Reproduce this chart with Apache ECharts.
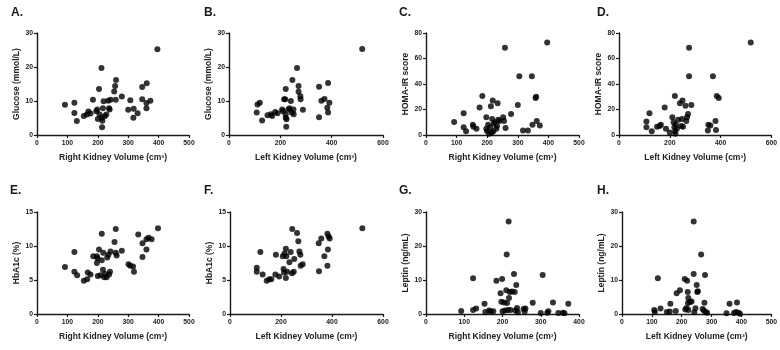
<!DOCTYPE html>
<html>
<head>
<meta charset="utf-8">
<script src="https://cdn.jsdelivr.net/npm/echarts@6/dist/echarts.min.js"></script>
<style>
  html, body { margin: 0; padding: 0; background: #fff; }
  #chart { width: 780px; height: 350px; }
</style>
</head>
<body>
<div id="chart"></div>
<script>
// panel letters and axis labels
const panelLetters = ['A.', 'B.', 'C.', 'D.', 'E.', 'F.', 'G.', 'H.'];
const xNames = [
  'Right Kidney Volume (cm³)', 'Left Kidney Volume (cm³)',
  'Right Kidney Volume (cm³)', 'Left Kidney Volume (cm³)',
  'Right Kidney Volume (cm³)', 'Left Kidney Volume (cm³)',
  'Right Kidney Volume (cm³)', 'Left Kidney Volume (cm³)'
];
const yNames = [
  'Glucose (mmol/L)', 'Glucose (mmol/L)', 'HOMA-IR score', 'HOMA-IR score',
  'HbA1c (%)', 'HbA1c (%)', 'Leptin (ng/mL)', 'Leptin (ng/mL)'
];
// axis ranges [max, interval]
const xRanges = [[500, 100], [600, 200], [500, 100], [600, 200], [500, 100], [600, 200], [400, 100], [500, 100]];
const yRanges = [[30, 10], [30, 10], [80, 20], [80, 20], [15, 5], [15, 5], [30, 10], [30, 10]];

// A. glucose vs right kidney volume
const glucoseRight = [
  [92, 8.9], [123, 9.5], [123, 6.5], [131, 4.1], [154, 5.6], [164, 6.0], [169, 6.9], [176, 6.3],
  [184, 10.4], [195, 7.0], [198, 7.5], [200, 4.7], [204, 13.5], [206, 6.0], [212, 19.7], [212, 5.0],
  [214, 2.3], [215, 4.2], [217, 7.9], [219, 9.9], [223, 5.5], [228, 6.0], [234, 10.1], [237, 7.9],
  [239, 7.5], [242, 10.4], [254, 12.8], [257, 14.4], [260, 16.2], [259, 10.4], [279, 11.3], [300, 7.4],
  [307, 10.2], [317, 5.1], [318, 7.7], [331, 6.4], [346, 14.1], [346, 10.5], [361, 15.2], [360, 9.4],
  [360, 7.9], [373, 10.1], [396, 25.2]
];
// B. glucose vs left kidney volume
const glucoseLeft = [
  [108, 6.6], [111, 9.0], [120, 9.5], [129, 4.3], [150, 5.8], [163, 6.1], [168, 5.6], [180, 6.8],
  [189, 6.4], [207, 7.5], [210, 7.0], [215, 10.5], [221, 13.5], [219, 10.5], [221, 6.1], [221, 5.1],
  [223, 2.4], [224, 4.6], [231, 7.5], [236, 7.9], [241, 10.0], [247, 16.2], [244, 6.6], [251, 7.5],
  [252, 6.1], [265, 19.7], [271, 14.4], [271, 12.7], [278, 11.4], [279, 10.5], [288, 7.4], [351, 14.2],
  [351, 5.2], [360, 10.1], [372, 10.6], [386, 15.3], [383, 8.0], [386, 6.6], [391, 9.5], [519, 25.3]
];
// C. HOMA-IR vs right kidney volume
const homaRight = [
  [92, 10.2], [123, 17], [123, 6], [131, 3], [153, 8], [155, 6.5], [165, 5], [175, 21.5],
  [184, 30.5], [197, 14], [197, 5], [200, 3], [203, 8], [207, 1], [210, 6], [212, 22.5],
  [215, 2], [216, 12.5], [218, 27], [220, 3], [222, 9], [225, 10], [230, 5], [232, 7],
  [234, 25], [236, 12], [240, 11], [252, 14], [255, 11], [258, 68.5], [260, 5.5], [278, 16.5],
  [300, 23.5], [305, 46], [317, 3.5], [333, 3.5], [346, 46], [348, 8], [358, 29], [360, 30],
  [362, 11], [372, 7.5], [396, 72.5]
];
// D. HOMA-IR vs left kidney volume
const homaLeft = [
  [108, 10.5], [108, 6], [120, 17], [129, 3], [150, 6.5], [160, 7], [165, 8], [180, 21.5],
  [185, 5], [200, 2], [210, 14], [215, 10], [218, 6], [220, 30.5], [221, 3], [222, 1],
  [224, 8], [228, 5], [233, 12], [240, 25], [245, 7], [248, 12.5], [250, 27], [252, 6.5],
  [262, 23], [265, 11], [268, 14], [272, 16.5], [276, 68.5], [276, 46], [285, 23.5], [350, 3.5],
  [352, 8], [360, 7.5], [370, 46], [380, 11], [382, 4], [385, 30.5], [393, 29], [519, 72.5]
];
// E. HbA1c vs right kidney volume
const hba1cRight = [
  [92, 6.9], [123, 9.1], [123, 6.2], [132, 5.7], [154, 4.9], [165, 5.1], [167, 6.1], [176, 5.8],
  [185, 8.5], [197, 8.5], [197, 7.5], [199, 8.2], [200, 5.6], [204, 9.5], [209, 5.7], [213, 11.8],
  [213, 7.9], [217, 6.5], [218, 9.0], [221, 5.4], [224, 5.9], [229, 5.4], [231, 8.3], [235, 8.7],
  [240, 6.2], [242, 9.2], [237, 5.8], [255, 10.6], [259, 12.5], [259, 9.0], [262, 8.6], [279, 9.3],
  [301, 7.3], [307, 7.1], [316, 7.0], [319, 6.2], [333, 11.7], [347, 10.4], [347, 8.4], [360, 9.5],
  [360, 11.0], [367, 11.2], [377, 11.0], [398, 12.6]
];
// F. HbA1c vs left kidney volume
const hba1cLeft = [
  [105, 6.8], [105, 6.2], [119, 9.1], [128, 5.8], [144, 4.9], [154, 5.1], [162, 5.1], [178, 5.8],
  [180, 8.7], [193, 5.5], [207, 8.5], [210, 6.6], [212, 6.1], [214, 8.9], [219, 9.6], [219, 5.3],
  [221, 8.5], [224, 6.2], [233, 7.6], [238, 9.1], [243, 6.0], [244, 12.5], [250, 6.2], [252, 8.1],
  [263, 11.9], [268, 10.7], [272, 9.2], [276, 8.7], [277, 7.1], [285, 7.3], [348, 10.4], [349, 6.3],
  [358, 11.1], [370, 8.5], [382, 11.8], [384, 9.5], [382, 7.1], [391, 11.1], [387, 11.4], [519, 12.6]
];
// G. leptin vs right kidney volume
const leptinRight = [
  [92, 0.9], [123, 10.5], [123, 1.2], [131, 1.6], [153, 3.0], [155, 0.6], [165, 1.0], [169, 0.7],
  [176, 0.8], [184, 9.8], [195, 6.1], [197, 3.6], [199, 10.3], [200, 0.8], [204, 3.4], [207, 1.0],
  [210, 7.0], [211, 17.5], [212, 3.2], [214, 1.2], [216, 27.2], [217, 4.7], [219, 6.5], [221, 1.2],
  [225, 6.6], [230, 11.8], [232, 6.5], [234, 1.0], [236, 8.5], [238, 1.8], [240, 0.5], [255, 1.5],
  [258, 0.7], [260, 1.6], [279, 3.3], [300, 0.3], [305, 11.5], [317, 0.4], [320, 0.8], [332, 3.4],
  [346, 0.3], [358, 0.4], [362, 0.2], [372, 3.0]
];
// H. leptin vs left kidney volume
const leptinLeft = [
  [108, 1.2], [110, 0.6], [120, 10.5], [129, 1.6], [150, 0.6], [160, 0.7], [162, 3.0], [180, 0.9],
  [183, 6.1], [194, 7.0], [210, 10.3], [212, 1.3], [216, 1.8], [218, 9.8], [220, 6.5], [221, 3.2],
  [222, 4.7], [222, 1.2], [228, 3.5], [233, 3.7], [240, 27.2], [240, 11.8], [242, 0.5], [246, 1.7],
  [250, 8.5], [252, 6.5], [254, 6.7], [265, 17.5], [270, 1.5], [274, 1.0], [276, 3.3], [278, 11.5],
  [280, 0.6], [285, 0.4], [350, 0.2], [360, 3.0], [375, 0.3], [382, 0.6], [385, 3.4], [390, 0.4],
  [395, 0.1]
];
const panelData = [glucoseRight, glucoseLeft, homaRight, homaLeft, hba1cRight, hba1cLeft, leptinRight, leptinLeft];

// 每个小图的位置（像素）
const grids = [
  { left: 37, top: 33, width: 152, height: 102 },
  { left: 229, top: 33, width: 154, height: 102 },
  { left: 426, top: 33, width: 153, height: 102 },
  { left: 619, top: 33, width: 155, height: 102 },
  { left: 37, top: 212, width: 152, height: 102 },
  { left: 230, top: 212, width: 153, height: 102 },
  { left: 426, top: 212, width: 153, height: 102 },
  { left: 622, top: 212, width: 152, height: 102 }
];
const titlePos = [[11, 7], [204, 7], [399, 7], [597, 7], [10, 185], [204, 185], [399, 185], [597, 185]];

const FONT = '"Liberation Sans", Arial, sans-serif';
const INK = '#1a1a1a';

const axisCommon = {
  axisLine: { show: true, lineStyle: { color: INK, width: 1.4 } },
  axisTick: { show: true, length: 3, lineStyle: { color: INK, width: 1.2 } },
  splitLine: { show: false },
  nameLocation: 'middle',
  nameTextStyle: { fontFamily: FONT, fontWeight: 'bold', fontSize: 8.5, color: '#222' }
};

const chart = echarts.init(document.getElementById('chart'), null, { renderer: 'canvas' });

const option = {
  animation: false,
  backgroundColor: '#fff',
  title: panelLetters.map((t, i) => ({
    text: t,
    left: titlePos[i][0],
    top: titlePos[i][1],
    padding: 0,
    textStyle: { fontFamily: FONT, fontWeight: 'bold', fontSize: 12, color: INK }
  })),
  grid: grids,
  xAxis: grids.map((g, i) => Object.assign({}, axisCommon, {
    type: 'value',
    gridIndex: i,
    min: 0,
    max: xRanges[i][0],
    interval: xRanges[i][1],
    name: xNames[i],
    nameGap: 18,
    axisLabel: { fontFamily: FONT, fontWeight: 'bold', fontSize: 6.8, color: '#222', margin: 5 }
  })),
  yAxis: grids.map((g, i) => Object.assign({}, axisCommon, {
    type: 'value',
    gridIndex: i,
    min: 0,
    max: yRanges[i][0],
    interval: yRanges[i][1],
    name: yNames[i],
    nameGap: 15,
    axisLabel: { fontFamily: FONT, fontWeight: 'bold', fontSize: 6.8, color: '#222', margin: 4 }
  })),
  series: panelData.map((d, i) => ({
    type: 'scatter',
    xAxisIndex: i,
    yAxisIndex: i,
    data: d,
    symbol: 'circle',
    symbolSize: 6,
    itemStyle: { color: '#000' },
    silent: true
  }))
};

chart.setOption(option);
</script>
</body>
</html>
